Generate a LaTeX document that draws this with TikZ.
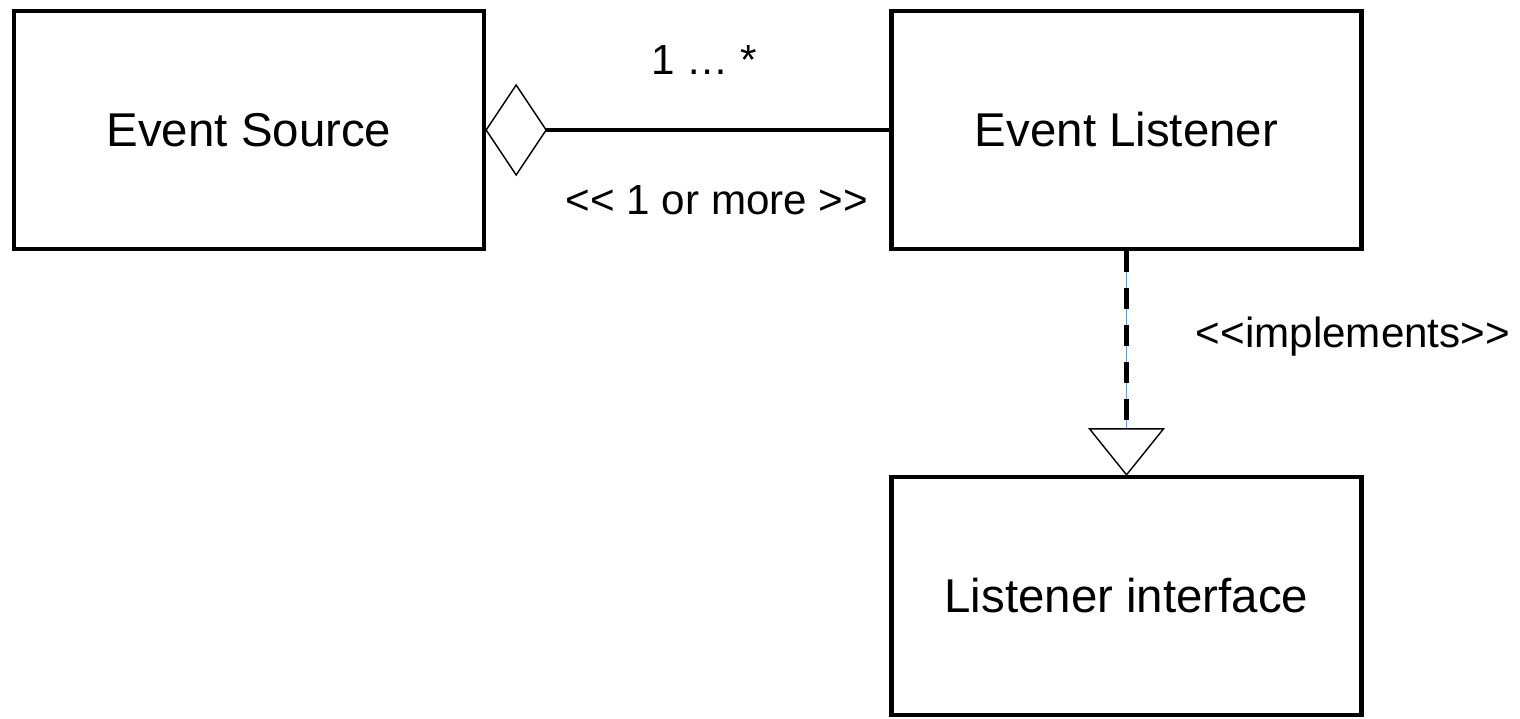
\documentclass[tikz,border=0pt]{standalone}
\usepackage{fontspec}
\setmainfont{Liberation Sans}[Ligatures=TeXOff]
\usetikzlibrary{calc}
\definecolor{thinblue}{RGB}{100,149,237}

\begin{document}
\begin{tikzpicture}[x=0.02cm,y=-0.02cm,
        classbox/.style={draw, line width=2.5pt, minimum width=9.4cm, minimum height=4.76cm, font=\fontsize{27}{32}\selectfont},
        lbl/.style={font=\fontsize{24}{28}\selectfont}]
    \useasboundingbox (0,0) rectangle (1520,719);
    \node[classbox] (src) at (249,130) {Event Source};
    \node[classbox] (lst) at (1126.5,130) {Event Listener};
    \node[classbox] (intf) at (1126.5,596) {Listener interface};

    \draw[line width=0.8pt] (src.east) -- ++(30,-45) coordinate (dtop) -- ++(30,45) coordinate (dtip) -- ++(-30,45) -- cycle;
    \draw[line width=2.5pt] (dtip) -- (dtip -| lst.west);

    \coordinate (tri) at ($(intf.north)+(0,-46)$);
    \draw[thinblue, line width=0.4pt] (lst.south) -- (tri);
    \draw[line width=2.5pt, dash pattern=on 0.42cm off 0.32cm] (lst.south) -- (tri);
    \draw[line width=0.8pt, fill=white] (intf.north) -- ($(tri)+(-37,0)$) -- ($(tri)+(37,0)$) -- cycle;

    \node[lbl] (mult) at (704,60) {1 \dots\ *};
    \node[lbl] (card) at (717,200) {<< 1 or more >>};
    \node[lbl] (impl) at (1353,337) {<<implements>>};
\end{tikzpicture}
\end{document}
